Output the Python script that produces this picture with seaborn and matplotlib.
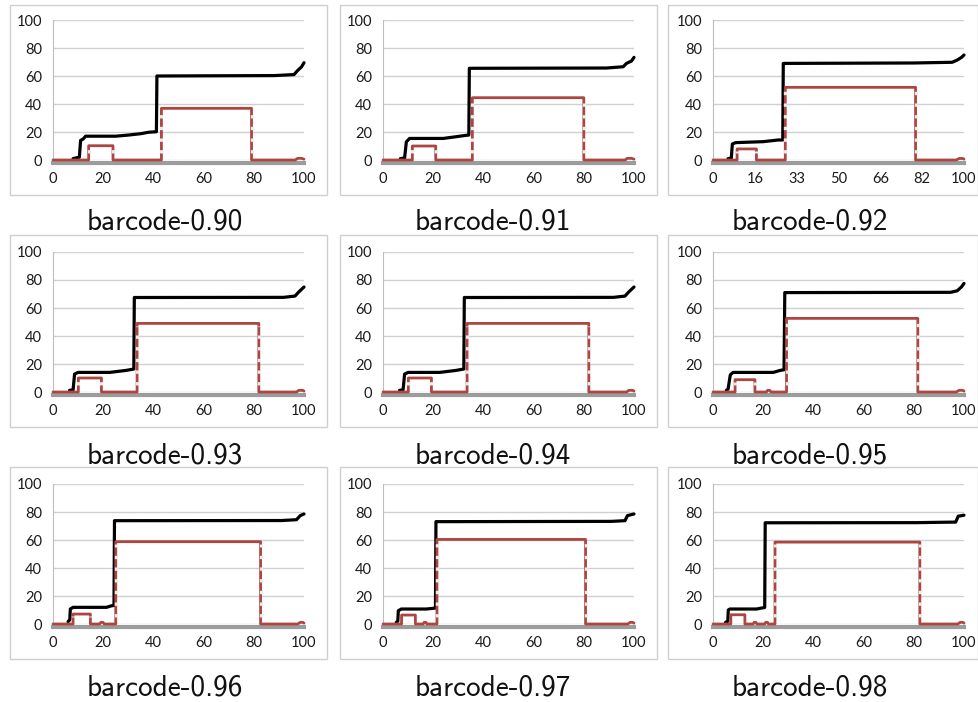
import matplotlib
matplotlib.use("Agg")
import matplotlib.pyplot as plt
from matplotlib.patches import Rectangle
import seaborn as sns

sns.set_style("white")
plt.rcParams["font.family"] = ["Lato", "DejaVu Sans"]
plt.rcParams["lines.scale_dashes"] = False

# ---- data: cumulative share (black) and per-window share (red) per threshold ----
titles = ["barcode-0.90", "barcode-0.91", "barcode-0.92",
          "barcode-0.93", "barcode-0.94", "barcode-0.95",
          "barcode-0.96", "barcode-0.97", "barcode-0.98"]

xticks_default = [0, 20, 40, 60, 80, 100]
xtick_labels_default = ["0", "20", "40", "60", "80", "100"]
xticks_092 = [0, 100 / 6, 200 / 6, 50, 400 / 6, 500 / 6, 100]
xtick_labels_092 = ["0", "16", "33", "50", "66", "82", "100"]
yticks = [0, 20, 40, 60, 80, 100]

black_x_090 = [8, 10.5, 11, 12, 13, 25, 30, 35, 38, 41.2, 41.4, 88, 96, 97.5, 99, 100]
black_y_090 = [1, 2, 14, 15, 17, 17, 17.8, 18.8, 19.8, 20.2, 60, 60.3, 61, 64, 66.5, 69.5]
red_x_090 = [0, 14.2, 14.2, 23.9, 23.9, 43.2, 43.2, 79.1, 79.1, 96.5, 97.5, 99, 100]
red_y_090 = [0, 0, 10.2, 10.2, 0, 0, 36.9, 36.9, 0, 0, 1.2, 1.2, 0.6]

black_x_091 = [6.9, 8.6, 9.3, 10.6, 24, 29, 33, 34.2, 34.4, 89, 95.7, 97, 99, 100]
black_y_091 = [1, 1.4, 13, 15.4, 15.4, 16.6, 17.6, 17.8, 65.5, 65.7, 66.6, 69, 70.7, 73.3]
red_x_091 = [0, 11.7, 11.7, 21, 21, 35.6, 35.6, 80, 80, 96.5, 97.3, 99, 100]
red_y_091 = [0, 0, 10, 10, 0, 0, 44.5, 44.5, 0, 0, 1.2, 1.2, 0.6]

black_x_092 = [6, 7.3, 7.7, 9, 20, 26, 27.8, 28, 80, 95.3, 97.3, 99, 100]
black_y_092 = [1, 1.4, 11.4, 12.4, 13.1, 14.3, 14.3, 69, 69.3, 69.8, 71.4, 73.3, 75]
red_x_092 = [0, 9.6, 9.6, 17.3, 17.3, 28.8, 28.8, 80.7, 80.7, 97, 98, 99.5, 100]
red_y_092 = [0, 0, 7.9, 7.9, 0, 0, 51.9, 51.9, 0, 0, 1.1, 1.1, 0.6]

black_x_093 = [6.6, 8, 8.6, 10, 22.6, 29, 32.2, 32.4, 91.8, 96.4, 98, 100]
black_y_093 = [1.2, 1.5, 12.8, 14, 14, 15.4, 16.4, 67.5, 67.6, 68.5, 71.6, 75]
red_x_093 = [0, 10.1, 10.1, 19.3, 19.3, 33.5, 33.5, 82, 82, 97, 98, 99.5, 100]
red_y_093 = [0, 0, 10, 10, 0, 0, 49, 49, 0, 0, 1.2, 1.2, 0.6]

black_x_094 = [6.6, 8, 8.6, 10, 22.6, 29, 32.2, 32.4, 91.8, 96.4, 98, 100]
black_y_094 = [1.2, 1.5, 12.8, 14, 14, 15.4, 16.4, 67.5, 67.6, 68.5, 71.6, 75]
red_x_094 = [0, 10.1, 10.1, 19.3, 19.3, 33.5, 33.5, 82, 82, 97, 98, 99.5, 100]
red_y_094 = [0, 0, 10, 10, 0, 0, 49, 49, 0, 0, 1.2, 1.2, 0.6]

black_x_095 = [5.3, 6, 6.9, 8, 24, 26.7, 28.3, 28.6, 94.7, 97.3, 99, 100]
black_y_095 = [1.2, 2, 12.3, 14, 14, 15.4, 15.9, 71, 71.2, 72.3, 75.1, 77.5]
red_x_095 = [0, 8.8, 8.8, 16.7, 16.7, 21.3, 21.8, 22.6, 23.1, 29.3, 29.3, 81.6, 81.6, 97, 98, 99.5, 100]
red_y_095 = [0, 0, 8.8, 8.8, 0, 0, 1.2, 1.2, 0, 0, 52.6, 52.6, 0, 0, 1.2, 1.2, 0.6]

black_x_096 = [6, 6.7, 6.9, 8, 21.3, 23.3, 24.3, 24.5, 91, 97, 98.5, 100]
black_y_096 = [1.7, 3, 10.7, 11.9, 11.9, 13, 13.2, 73.8, 73.9, 74.5, 77.4, 78.6]
red_x_096 = [0, 8, 8, 14.9, 14.9, 18.6, 19.1, 19.9, 20.4, 25, 25, 82.7, 82.7, 97.5, 98.5, 99.5, 100]
red_y_096 = [0, 0, 7.1, 7.1, 0, 0, 1.2, 1.2, 0, 0, 58.8, 58.8, 0, 0, 1.2, 1.2, 0.6]

black_x_097 = [5.3, 5.9, 6.1, 7.3, 17.3, 20, 20.9, 21.1, 91, 96.4, 97.4, 100]
black_y_097 = [1.2, 2, 9.5, 10.7, 10.7, 11.2, 11.4, 73.1, 73.3, 73.8, 77.4, 78.6]
red_x_097 = [0, 7.4, 7.4, 12.9, 12.9, 16, 16.4, 17.1, 17.5, 21.5, 21.5, 80.7, 80.7, 97.5, 98.5, 99.5, 100]
red_y_097 = [0, 0, 6.4, 6.4, 0, 0, 1.2, 1.2, 0, 0, 60.4, 60.4, 0, 0, 1.2, 1.2, 0.6]

black_x_098 = [5, 5.9, 6.1, 6.7, 17.3, 20, 20.6, 20.8, 81.3, 96.7, 97.7, 100]
black_y_098 = [1.2, 2, 10, 10.7, 10.7, 11.6, 11.8, 72.3, 72.4, 72.8, 77, 77.7]
red_x_098 = [0, 7.1, 7.1, 12.7, 12.7, 16, 16.4, 17.1, 17.5, 20.6, 21, 21.7, 22.1, 24.7, 24.7, 82.4, 82.4, 97.5, 98.5, 99.5, 100]
red_y_098 = [0, 0, 6.6, 6.6, 0, 0, 1.2, 1.2, 0, 0, 1.2, 1.2, 0, 0, 58.5, 58.5, 0, 0, 1.2, 1.2, 0.6]

black_series = [(black_x_090, black_y_090), (black_x_091, black_y_091), (black_x_092, black_y_092),
                (black_x_093, black_y_093), (black_x_094, black_y_094), (black_x_095, black_y_095),
                (black_x_096, black_y_096), (black_x_097, black_y_097), (black_x_098, black_y_098)]
red_series = [(red_x_090, red_y_090), (red_x_091, red_y_091), (red_x_092, red_y_092),
              (red_x_093, red_y_093), (red_x_094, red_y_094), (red_x_095, red_y_095),
              (red_x_096, red_y_096), (red_x_097, red_y_097), (red_x_098, red_y_098)]

# ---- layout (pixels on a 979 x 702 canvas) ----
W, H = 979, 702
plot_left = [53, 383, 713]
plot_width = 251
plot_top = [20, 252, 484]
plot_height = 140
box_x = [(10, 327), (340, 657), (668, 978)]
box_y = [(5, 195), (235, 427), (467, 659)]
title_x = [165, 493, 810]
title_y = [222, 456, 688]

BLACK = "#000000"
RED = "#ad4540"
GAP = "#ececec"
GRID = "#d0d0d0"
AXIS_GRAY = "#9c9c9c"
BOX = "#cfcfcf"

fig = plt.figure(figsize=(W / 100, H / 100), dpi=100)

for idx in range(9):
    r, c = divmod(idx, 3)
    x0, x1 = box_x[c]
    y0, y1 = box_y[r]
    fig.patches.append(Rectangle((x0 / W, 1 - y1 / H), (x1 - x0) / W, (y1 - y0) / H,
                                 transform=fig.transFigure, fill=False,
                                 edgecolor=BOX, linewidth=1.0))

    ax = fig.add_axes([plot_left[c] / W, 1 - (plot_top[r] + plot_height) / H,
                       plot_width / W, plot_height / H])
    ax.set_facecolor("none")

    bx, by = black_series[idx]
    rx, ry = red_series[idx]

    sns.lineplot(x=bx, y=by, sort=False, estimator=None, ax=ax, color=BLACK,
                 linewidth=2.3, clip_on=False, zorder=3)
    sns.lineplot(x=rx, y=ry, sort=False, estimator=None, ax=ax, color=RED,
                 linewidth=2.0, clip_on=False, zorder=4)
    # vertical edges of the red step series are drawn dashed
    for i in range(len(rx) - 1):
        if rx[i] == rx[i + 1] and abs(ry[i + 1] - ry[i]) > 2:
            lo, hi = sorted((ry[i], ry[i + 1]))
            ax.vlines(rx[i], lo + 2.5, hi - 1.5, colors=GAP, linewidth=2.4,
                      linestyles=(5.5, (2.4, 6.0)), zorder=5)

    ax.set_xlim(0, 100)
    ax.set_ylim(0, 100)
    ax.set_yticks(yticks)
    if idx == 2:
        ax.set_xticks(xticks_092)
        ax.set_xticklabels(xtick_labels_092)
    else:
        ax.set_xticks(xticks_default)
        ax.set_xticklabels(xtick_labels_default)
    ax.set_yticklabels([str(v) for v in yticks])

    ax.grid(axis="y", color=GRID, linewidth=1.0)
    ax.grid(axis="x", visible=False)
    ax.set_axisbelow(True)
    for s in ("top", "right"):
        ax.spines[s].set_visible(False)
    ax.spines["left"].set_color("#bdbdbd")
    ax.spines["left"].set_linewidth(0.8)
    ax.spines["bottom"].set_color(AXIS_GRAY)
    ax.spines["bottom"].set_linewidth(3.0)
    ax.spines["bottom"].set_position(("outward", 1.8))
    ax.spines["bottom"].set_zorder(2)
    ax.tick_params(axis="both", length=0, labelsize=10.5, colors="#1a1a1a")
    ax.tick_params(axis="x", pad=7)
    ax.tick_params(axis="y", pad=8)
    ax.set_xlabel("")
    ax.set_ylabel("")

    fig.text(title_x[c] / W, 1 - title_y[r] / H, titles[idx], ha="center", va="center",
             fontsize=21, family=["cmss10", "DejaVu Sans"], color="#111111")

fig.savefig("out.png", dpi=100)
